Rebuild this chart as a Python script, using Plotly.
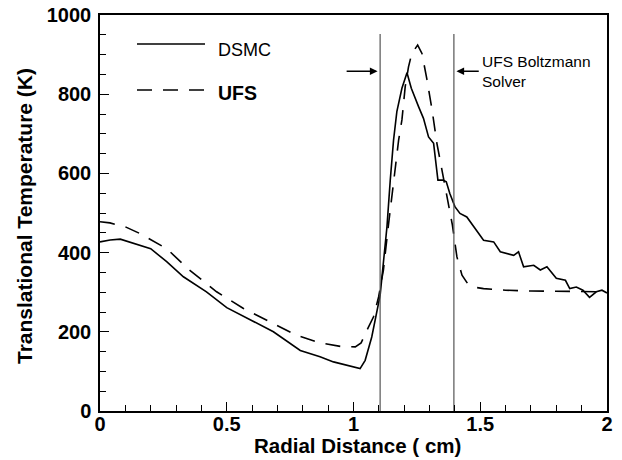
import plotly.graph_objects as go

# DSMC solution (solid)
dsmc_x = [0.0, 0.04, 0.08, 0.2, 0.263, 0.329, 0.42, 0.5, 0.6, 0.684, 0.79, 0.868, 0.921, 1.0,
          1.026, 1.046, 1.072, 1.105, 1.132, 1.145, 1.158, 1.171, 1.191, 1.211, 1.228, 1.257,
          1.276, 1.296, 1.316, 1.333, 1.353, 1.366, 1.38, 1.4, 1.42, 1.447, 1.474, 1.513,
          1.553, 1.579, 1.632, 1.651, 1.671, 1.711, 1.737, 1.763, 1.8, 1.836, 1.853, 1.879,
          1.905, 1.931, 1.958, 1.98, 2.0]
dsmc_t = [427, 432, 434, 410, 377, 339, 301, 261, 228, 200, 153, 137, 124, 111,
          107, 128, 187, 292, 465, 583, 684, 756, 815, 854, 815, 768,
          739, 692, 676, 583, 583, 579, 549, 516, 499, 490, 465, 431,
          427, 402, 393, 402, 364, 368, 356, 364, 335, 330, 309, 313,
          305, 287, 301, 305, 298]

# UFS solution (dashed)
ufs_x = [0.0, 0.039, 0.1, 0.158, 0.263, 0.353, 0.46, 0.566, 0.671, 0.776, 0.868, 0.95, 1.007,
         1.03, 1.053, 1.079, 1.099, 1.118, 1.137, 1.165, 1.178, 1.191, 1.204, 1.217, 1.23,
         1.253, 1.27, 1.29, 1.31, 1.329, 1.349, 1.368, 1.38, 1.39, 1.408, 1.428, 1.45, 1.474,
         1.513, 1.6, 1.7, 1.8, 1.9, 2.0]
ufs_t = [478, 475, 465, 448, 410, 356, 301, 259, 225, 191, 172, 163, 162,
         172, 204, 238, 288, 356, 465, 608, 684, 735, 819, 869, 903,
         924, 903, 836, 760, 676, 608, 549, 507, 470, 389, 343, 322, 313,
         309, 305, 303, 302, 302, 301]

# UFS Boltzmann solver region boundaries
region_x = [1.105, 1.396]
region_top = 952
arrow_y = 858

FONT = "Liberation Sans, Arial, sans-serif"

fig = go.Figure()
fig.add_trace(go.Scatter(x=dsmc_x, y=dsmc_t, mode="lines", name="DSMC",
                         line=dict(color="black", width=1.6)))
fig.add_trace(go.Scatter(x=ufs_x, y=ufs_t, mode="lines", name="UFS",
                         line=dict(color="black", width=1.6, dash="15px,11px")))
for xv in region_x:
    fig.add_trace(go.Scatter(x=[xv, xv], y=[0, region_top], mode="lines", showlegend=False,
                             line=dict(color="#555555", width=1.2)))

# arrows
fig.add_annotation(x=region_x[0] - 0.01, y=arrow_y, ax=0.967, ay=arrow_y, xref="x", yref="y",
                   axref="x", ayref="y", text="", showarrow=True, arrowhead=2,
                   arrowsize=1.1, arrowwidth=1.4, arrowcolor="black")
fig.add_annotation(x=region_x[1] + 0.01, y=arrow_y, ax=1.5, ay=arrow_y, xref="x", yref="y",
                   axref="x", ayref="y", text="", showarrow=True, arrowhead=2,
                   arrowsize=1.1, arrowwidth=1.4, arrowcolor="black")
fig.add_annotation(x=1.503, y=(411 - 71.5) / 0.396, xref="x", yref="y", xanchor="left",
                   yanchor="middle", text="UFS Boltzmann<br>Solver", showarrow=False,
                   align="left", borderpad=0,
                   font=dict(family=FONT, size=15.5, color="black"))

# custom legend
px0, px1 = (137 - 100) / 507, (205 - 100) / 507
fig.add_shape(type="line", xref="paper", yref="paper", x0=px0, x1=px1,
              y0=(411 - 44) / 396, y1=(411 - 44) / 396, line=dict(color="black", width=1.6))
fig.add_shape(type="line", xref="paper", yref="paper", x0=px0, x1=px1,
              y0=(411 - 90) / 396, y1=(411 - 90) / 396,
              line=dict(color="black", width=1.6, dash="15px,11px"))
fig.add_annotation(x=(216 - 100) / 507, y=(411 - 49.5) / 396, xref="paper", yref="paper",
                   xanchor="left", yanchor="middle", text="DSMC", showarrow=False,
                   font=dict(family=FONT, size=18, color="black"))
fig.add_annotation(x=(216 - 100) / 507, y=(411 - 93) / 396, xref="paper", yref="paper",
                   xanchor="left", yanchor="middle", text="<b>UFS</b>", showarrow=False,
                   font=dict(family=FONT, size=19.5, color="black"))

# axis titles
fig.add_annotation(x=(357 - 100) / 507, y=(411 - 445) / 396, xref="paper", yref="paper",
                   xanchor="center", yanchor="middle", text="<b>Radial Distance ( cm)</b>",
                   showarrow=False, borderpad=0, font=dict(family=FONT, size=20.5, color="black"))
fig.add_annotation(x=(24 - 100) / 507, y=(411 - 216) / 396, xref="paper", yref="paper",
                   xanchor="center", yanchor="middle", textangle=-90,
                   text="<b>Translational Temperature (K)</b>",
                   showarrow=False, font=dict(family=FONT, size=21, color="black"))

axis_common = dict(showline=True, linecolor="black", linewidth=1.5, mirror=True,
                   ticks="inside", tickcolor="black", tickwidth=1.2, ticklen=9,
                   showgrid=False, zeroline=False, automargin=False,
                   tickfont=dict(family=FONT, size=20, color="black", weight="bold"))
fig.update_xaxes(range=[0, 2], tickvals=[0, 0.5, 1, 1.5, 2], ticktext=["0", "0.5", "1", "1.5", "2"],
                 minor=dict(dtick=0.1, ticks="inside", ticklen=6, tickcolor="black", tickwidth=1.2),
                 ticklabelstandoff=-6, **axis_common)
fig.update_yaxes(range=[0, 1000], dtick=200,
                 minor=dict(dtick=50, ticks="inside", ticklen=6, tickcolor="black", tickwidth=1.2),
                 ticklabelstandoff=3, **axis_common)

fig.update_layout(width=622, height=460, margin=dict(l=100, r=15, t=15, b=49),
                  paper_bgcolor="white", plot_bgcolor="white", showlegend=False,
                  font=dict(family=FONT, color="black"))
fig.write_html("out.html")
